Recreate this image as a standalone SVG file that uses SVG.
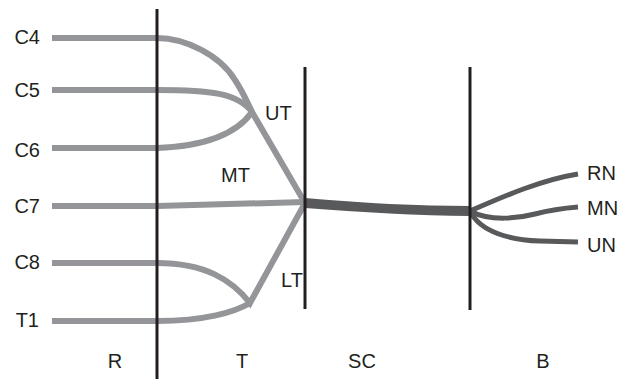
<svg xmlns="http://www.w3.org/2000/svg" width="621" height="379" viewBox="0 0 621 379">
<style>
.t{font-family:"Liberation Sans",Arial,sans-serif;font-size:20px;fill:#231f20}
.g{fill:none;stroke:#939598;stroke-width:6}
.d{fill:none;stroke:#58595b;stroke-width:5}
.v{stroke:#231f20;stroke-width:3}
</style>
<rect width="621" height="379" fill="#fff"/>
<g id="connectors">
<path class="g" d="M52,38 H157 C185,38 220,55 235,80 C243,92 248,104 252,112 L305,203"/>
<path class="g" d="M52,90 H157 C210,90 238,93 252,112"/>
<path class="g" d="M52,148 H157 C210,146 238,132 252,112"/>
<path class="g" d="M52,206 H157 L305,202"/>
<path class="g" d="M52,263 H157 C205,263 232,280 250,303 L305,203"/>
<path class="g" d="M52,321 H157 C205,321 235,312 250,303"/>
<path d="M305,198 C360,203 420,206 470,206 L470,216 C420,216 360,212 305,208 Z" fill="#58595b"/>
<path class="d" d="M470,211 C500,198 540,180 578,174"/>
<path class="d" d="M470,211 C490,222 520,218 535,214 C550,210 565,208 578,207"/>
<path class="d" d="M470,211 C480,232 510,240 540,241 L578,242"/>
</g>
<g id="bars">
<line class="v" x1="157" y1="9" x2="157" y2="379"/>
<line class="v" x1="305" y1="67" x2="305" y2="309"/>
<line class="v" x1="470" y1="67" x2="470" y2="310"/>
</g>
<g id="roots">
<text class="t" x="40" y="44" text-anchor="end">C4</text>
<text class="t" x="40" y="97" text-anchor="end">C5</text>
<text class="t" x="40" y="157" text-anchor="end">C6</text>
<text class="t" x="40" y="213" text-anchor="end">C7</text>
<text class="t" x="40" y="269" text-anchor="end">C8</text>
<text class="t" x="39" y="327" text-anchor="end">T1</text>
</g>
<g id="trunks">
<text class="t" x="265" y="120">UT</text>
<text class="t" x="221" y="182">MT</text>
<text class="t" x="281" y="287">LT</text>
</g>
<g id="nerves">
<text class="t" x="587" y="180">RN</text>
<text class="t" x="587" y="215">MN</text>
<text class="t" x="587" y="252">UN</text>
</g>
<g id="regions">
<text class="t" x="115" y="368" text-anchor="middle">R</text>
<text class="t" x="242" y="368" text-anchor="middle">T</text>
<text class="t" x="362" y="368" text-anchor="middle">SC</text>
<text class="t" x="543" y="368" text-anchor="middle">B</text>
</g>
</svg>
